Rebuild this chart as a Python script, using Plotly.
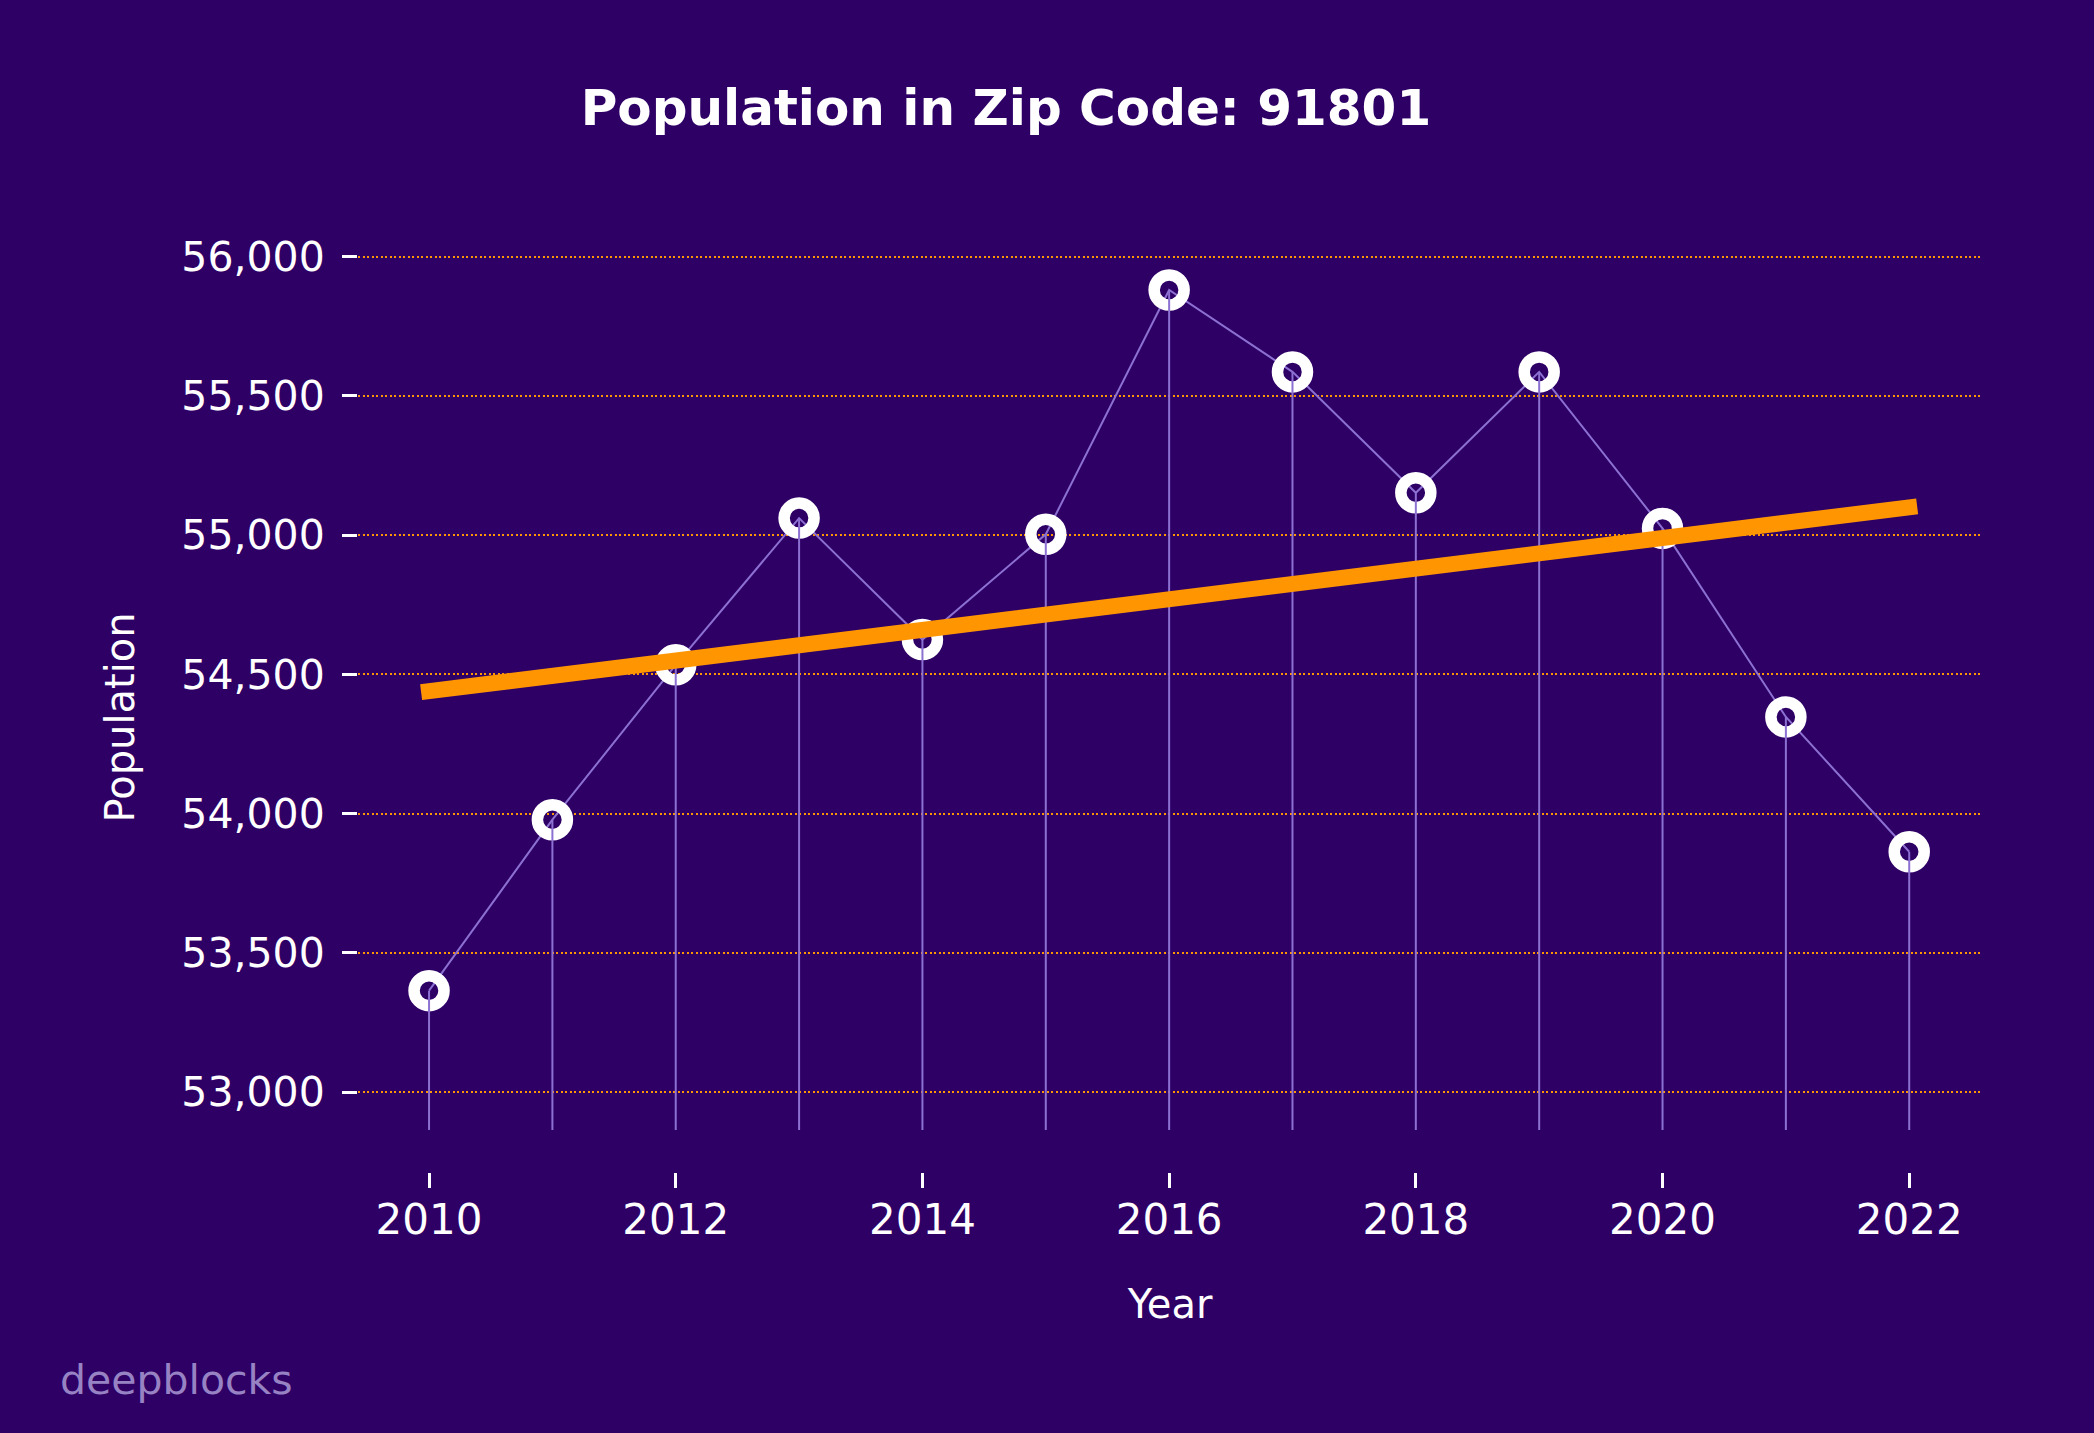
import numpy as np
import plotly.graph_objects as go

# ---- data ----
years = [2010, 2011, 2012, 2013, 2014, 2015, 2016, 2017, 2018, 2019, 2020, 2021, 2022]
population = [53364, 53978, 54534, 55061, 54625, 55003, 55880, 55586, 55152, 55586, 55024, 54347, 53863]
x_ticks = [2010, 2012, 2014, 2016, 2018, 2020, 2022]
y_ticks = [53000, 53500, 54000, 54500, 55000, 55500, 56000]
title_text = "Population in Zip Code: 91801"
x_title = "Year"
y_title = "Population"
watermark = "deepblocks"

# ---- style ----
BG = "#2e0066"
LINE = "#8c70d2"
ORANGE = "#ff9500"
FONT = "DejaVu Sans"
stem_base = 52864

# linear trend (least squares)
coef = np.polyfit(years, population, 1)
trend = list(np.polyval(coef, years))

stem_x, stem_y = [], []
for yr, v in zip(years, population):
    stem_x += [yr, yr, None]
    stem_y += [stem_base, v, None]

fig = go.Figure()
fig.add_trace(go.Scatter(x=years, y=population, mode="lines",
                         line=dict(color=LINE, width=2), hoverinfo="skip", showlegend=False))
fig.add_trace(go.Scatter(x=years, y=population, mode="markers",
                         marker=dict(symbol="circle-open", size=30, color="white",
                                     line=dict(width=11.5, color="white")),
                         showlegend=False))
fig.add_trace(go.Scatter(x=stem_x, y=stem_y, mode="lines",
                         line=dict(color=LINE, width=2), hoverinfo="skip", showlegend=False))
fig.add_trace(go.Scatter(x=years, y=trend, mode="lines",
                         line=dict(color=ORANGE, width=16), hoverinfo="skip", showlegend=False))

fig.update_layout(
    width=2094, height=1433,
    paper_bgcolor=BG, plot_bgcolor=BG,
    margin=dict(l=358, r=112, t=241, b=261),
    font=dict(family=FONT, color="white", size=42),
    title=dict(text=title_text, xref="container", yref="container",
               x=0.4804, y=1 - 107 / 1433, xanchor="center", yanchor="middle",
               font=dict(family=FONT, size=50, color="white", weight="bold")),
    showlegend=False,
)
fig.update_xaxes(
    range=[2009.424, 2022.59], tickvals=x_ticks, ticktext=[str(t) for t in x_ticks],
    showgrid=False, zeroline=False, showline=False,
    ticks="outside", ticklen=15, tickwidth=3, tickcolor="white",
    tickfont=dict(size=42, color="white", family=FONT), ticklabelstandoff=-4,
    title=dict(text=x_title, font=dict(size=40, color="white", family=FONT), standoff=46),
)
fig.update_yaxes(
    range=[52713, 56056], tickvals=y_ticks, ticktext=[f"{t:,}" for t in y_ticks],
    showgrid=True, gridcolor=ORANGE, gridwidth=2, griddash="2px,2.5px",
    zeroline=False, showline=False,
    ticks="outside", ticklen=15, tickwidth=2.5, tickcolor="white",
    tickfont=dict(size=41, color="white", family=FONT), ticklabelstandoff=9,
)
fig.add_annotation(text=y_title, xref="paper", yref="paper",
                   x=(120 - 358) / 1624, y=(1172 - 717) / 932, textangle=-90,
                   xanchor="center", yanchor="middle", showarrow=False,
                   font=dict(family=FONT, size=40, color="white"))
fig.add_annotation(text=watermark, xref="paper", yref="paper",
                   x=(58 - 358) / 1624, y=(1173 - 1381) / 932,
                   xanchor="left", yanchor="middle", showarrow=False,
                   font=dict(family=FONT, size=41, color="#9783c3"))

post = """
document.body.style.margin='0';
document.body.style.overflow='hidden';
function capTrend(){
  var tr = document.querySelectorAll('.scatterlayer .trace');
  if (tr.length > 3) {
    tr[tr.length-1].querySelectorAll('path.js-line').forEach(function(p){
      p.style.strokeLinecap = 'square';
    });
  }
}
capTrend();
setTimeout(capTrend, 30);
setTimeout(capTrend, 200);
"""

fig.write_html("out.html", config={"displayModeBar": False}, post_script=post)
